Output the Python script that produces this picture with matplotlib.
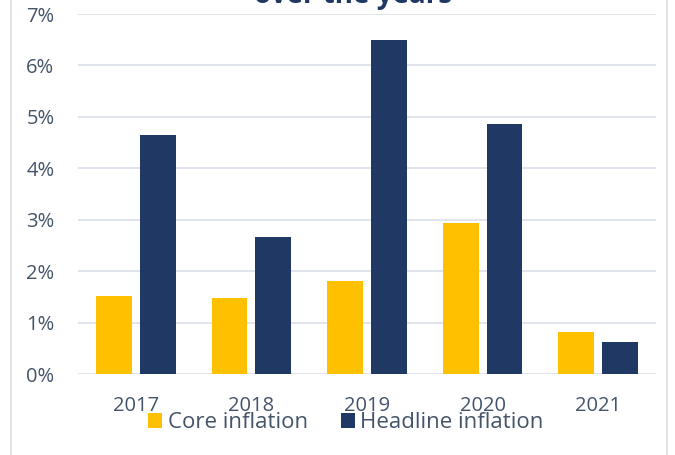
import matplotlib
matplotlib.use("Agg")
import matplotlib.pyplot as plt
from matplotlib.patches import Rectangle
import numpy as np

plt.rcParams["font.family"] = ["Open Sans", "DejaVu Sans"]

years = ["2017", "2018", "2019", "2020", "2021"]
core = [1.52, 1.48, 1.81, 2.94, 0.82]
headline = [4.65, 2.67, 6.50, 4.86, 0.62]
yticks = [0, 1, 2, 3, 4, 5, 6, 7]
ytick_labels = ["0%", "1%", "2%", "3%", "4%", "5%", "6%", "7%"]

W, H = 675, 455
fig = plt.figure(figsize=(W/100, H/100), dpi=100)
ax = fig.add_axes([78/W, 1-374/H, (656-78)/W, (374-14)/H])

x = np.arange(len(years))
bw = 0.31
off = 0.19
txt = "#44546A"
ax.bar(x - off, core, bw, color="#FFC000", label="Core inflation", zorder=3)
ax.bar(x + off, headline, bw, color="#203864", label="Headline inflation", zorder=3)

ax.set_xlim(-0.5, len(years)-0.5)
ax.set_ylim(0, 7)
ax.set_yticks(yticks)
ax.set_yticklabels(ytick_labels, fontsize=14.5)
ax.set_xticks(x)
ax.set_xticklabels(years, fontsize=14.5)
ax.yaxis.grid(True, color="#DDE2EA", linewidth=1.3, zorder=0)
for s in ax.spines.values():
    s.set_visible(False)
ax.tick_params(axis="both", length=0, colors=txt)
ax.tick_params(axis="y", pad=17)
ax.tick_params(axis="x", pad=16)
for lab in ax.get_xticklabels() + ax.get_yticklabels():
    lab.set_color(txt)

leg = fig.legend(loc="center", bbox_to_anchor=(346/W, 1-423/H), ncol=2, frameon=False,
                 fontsize=16, handlelength=0.62, handleheight=0.62, handletextpad=0.25,
                 columnspacing=1.5)
for t in leg.get_texts():
    t.set_color(txt)

fig.text(353/W, 1-3/H, "over the years", ha="center", va="baseline", fontsize=20,
         fontweight="bold", color="#203864")

fig.patches.append(Rectangle((11/W, -0.1), (667-11)/W, 1.2, transform=fig.transFigure,
                             fill=False, edgecolor="#D9DEE6", linewidth=1.2))

fig.savefig("out.png", dpi=100)
